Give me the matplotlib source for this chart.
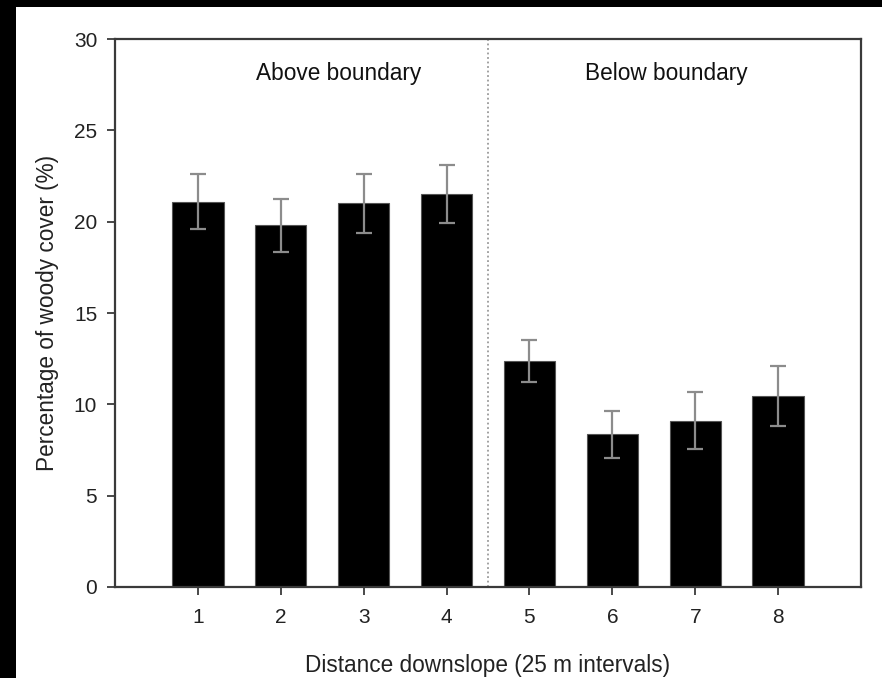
import matplotlib
matplotlib.use("Agg")
import matplotlib.pyplot as plt
from matplotlib.patches import Rectangle

plt.rcParams['font.family'] = ['Liberation Sans', 'DejaVu Sans']

positions = [1, 2, 3, 4, 5, 6, 7, 8]
cover = [21.1, 19.8, 21.0, 21.5, 12.35, 8.35, 9.1, 10.45]
errors = [1.5, 1.45, 1.6, 1.6, 1.15, 1.3, 1.55, 1.65]
tick_labels = ['1', '2', '3', '4', '5', '6', '7', '8']
yticks = [0, 5, 10, 15, 20, 25, 30]
boundary = 4.5

fig = plt.figure(figsize=(8.82, 6.78), dpi=100)
fig.patch.set_facecolor('white')
ax = fig.add_axes([115 / 882, 1 - 587 / 678, (861 - 115) / 882, (587 - 39) / 678])

ax.bar(positions, cover, width=0.62, color='black', edgecolor='#555555', linewidth=0.8, zorder=2)
ax.errorbar(positions, cover, yerr=errors, fmt='none', ecolor='#8c8c8c',
            elinewidth=1.6, capsize=5.8, capthick=1.6, zorder=3)
ax.axvline(boundary, color='#9a9a9a', linestyle=(0, (1, 1.5)), linewidth=1.3, zorder=1)

ax.set_xlim(0, 9)
ax.set_ylim(0, 30)
ax.set_xticks(positions)
ax.set_xticklabels(tick_labels)
ax.set_yticks(yticks)

for s in ax.spines.values():
    s.set_color('#3a3a3a')
    s.set_linewidth(1.6)

ax.tick_params(axis='both', direction='out', length=5.8, width=1.3, color='#3a3a3a',
               labelsize=15, labelcolor='#222222')
ax.tick_params(axis='x', pad=9)
ax.tick_params(axis='y', pad=7)

ax.text(2.70, 28.1, 'Above boundary', ha='center', va='center', fontsize=16.3, color='#111111')
ax.text(6.65, 28.1, 'Below boundary', ha='center', va='center', fontsize=16.3, color='#111111')

ax.set_xlabel('Distance downslope (25 m intervals)', fontsize=16.3, color='#222222', labelpad=20)
ax.set_ylabel('Percentage of woody cover (%)', fontsize=16.3, color='#222222', labelpad=11)

# dark frame strips along top and left edges
fig.patches.append(Rectangle((0, 1 - 7 / 678), 1, 7 / 678, transform=fig.transFigure,
                             facecolor='black', edgecolor='none', zorder=10))
fig.patches.append(Rectangle((0, 0), 16 / 882, 1, transform=fig.transFigure,
                             facecolor='black', edgecolor='none', zorder=10))

fig.savefig('out.png', dpi=100, facecolor='white')
